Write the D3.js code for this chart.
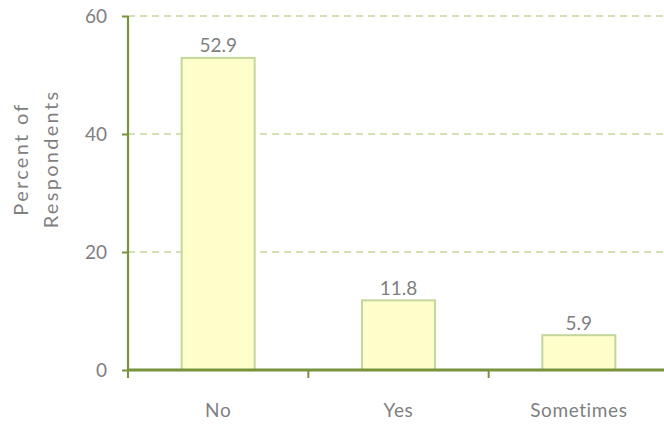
<!DOCTYPE html>
<html>
<head>
<meta charset="utf-8">
<script src="https://cdn.jsdelivr.net/npm/d3@7"></script>
<style>
  html, body { margin: 0; padding: 0; background: #fff; }
  svg { display: block; }
  text { font-family: Lato, "Open Sans", sans-serif; fill: #7f7f7f; }
</style>
</head>
<body>
<svg id="chart" width="664" height="425"></svg>
<script>
// Survey responses
const categories = ["No", "Yes", "Sometimes"];
const values = [52.9, 11.8, 5.9];
const yTicks = [0, 20, 40, 60];
const yTitleLines = ["Percent of", "Respondents"];

const svg = d3.select("#chart");
const plotLeft = 128, plotRight = 669, plotTop = 16, plotBottom = 370;
const axisColor = "#77933c";
const font = "Lato, 'Open Sans', sans-serif";

const xTick = d3.scaleBand().domain(categories).range([plotLeft, plotRight]);
const y = d3.scaleLinear().domain([0, 60]).range([plotBottom, plotTop]);

// dashed gridlines
svg.append("g").selectAll("line")
  .data(yTicks.filter(d => d > 0))
  .join("line")
  .attr("x1", plotLeft).attr("x2", 664)
  .attr("y1", d => y(d)).attr("y2", d => y(d))
  .attr("stroke", "#c3d69b").attr("stroke-width", 1.5)
  .attr("stroke-dasharray", "7,5");

// bars
const bw = 73;
svg.append("g").selectAll("rect")
  .data(values)
  .join("rect")
  .attr("x", (d, i) => xTick(categories[i]) + xTick.bandwidth() / 2 - bw / 2)
  .attr("y", d => y(d))
  .attr("width", bw)
  .attr("height", d => y(0) - y(d))
  .attr("fill", "#ffffcc")
  .attr("stroke", "#c3d69b").attr("stroke-width", 2);

// value labels
svg.append("g").selectAll("text")
  .data(values)
  .join("text")
  .attr("x", (d, i) => xTick(categories[i]) + xTick.bandwidth() / 2)
  .attr("y", d => y(d) - 5.5)
  .attr("text-anchor", "middle")
  .attr("font-size", 19)
  .text(d => d.toFixed(1));

// y axis
const yAxis = svg.append("g").attr("transform", `translate(${plotLeft},0)`)
  .call(d3.axisLeft(y).tickValues(yTicks).tickSize(6).tickPadding(15));
yAxis.select(".domain").attr("stroke", axisColor).attr("stroke-width", 2.2).attr("d", `M0,${plotTop}V${plotBottom}`);
yAxis.selectAll(".tick line").attr("stroke", axisColor).attr("stroke-width", 2);
yAxis.selectAll(".tick text").attr("font-size", 19).attr("fill", "#7f7f7f")
  .style("font-family", font);

// x axis
const xAxis = svg.append("g").attr("transform", `translate(0,${plotBottom})`)
  .call(d3.axisBottom(xTick).tickSize(0).tickPadding(34));
xAxis.select(".domain").attr("stroke", axisColor).attr("stroke-width", 3).attr("d", `M${plotLeft},0H664`);
xAxis.selectAll(".tick text").attr("font-size", 19).attr("fill", "#7f7f7f")
  .attr("letter-spacing", 0.6)
  .style("font-family", font);
// category boundary ticks
svg.append("g").selectAll("line")
  .data(categories)
  .join("line")
  .attr("x1", d => xTick(d)).attr("x2", d => xTick(d))
  .attr("y1", plotBottom).attr("y2", plotBottom + 8)
  .attr("stroke", axisColor).attr("stroke-width", 2);

// y title
const title = svg.append("text")
  .attr("transform", "translate(28,159) rotate(-90)")
  .attr("text-anchor", "middle")
  .attr("font-size", 20)
  .attr("letter-spacing", 2.3);
title.selectAll("tspan").data(yTitleLines).join("tspan")
  .attr("x", 0).attr("dy", (d, i) => i === 0 ? 0 : 29.5)
  .text(d => d);
</script>
</body>
</html>
